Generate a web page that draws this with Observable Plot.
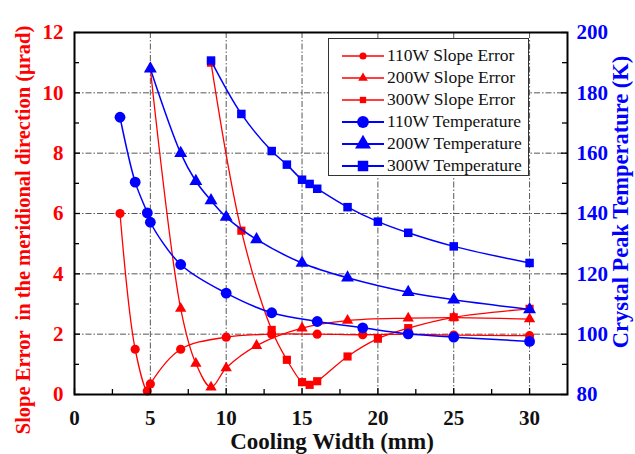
<!DOCTYPE html>
<html><head><meta charset="utf-8">
<script src="https://cdn.jsdelivr.net/npm/d3@7"></script>
<script src="https://cdn.jsdelivr.net/npm/@observablehq/plot@0.6"></script>
<style>
body{margin:0;background:#fff}
#wrap{position:relative;width:635px;height:454px;overflow:hidden}
#legend{position:absolute;left:328px;top:38px;width:201px;height:138px;border:1px solid #333;background:#fff;box-sizing:border-box}
.row{position:absolute;left:0;height:22px;width:200px;font-family:"Liberation Serif",serif;font-size:17.5px;color:#111}
.row svg{position:absolute;left:12px;top:0}
.row span{position:absolute;left:58px;top:0px;white-space:nowrap}
</style>
</head><body><div id="wrap"></div>
<script>
// Cooling width (mm) and values
const x110se = [3, 4, 4.8, 5, 7, 10, 13, 16, 19, 22, 25, 30];
const se110  = [6.0, 1.5, 0.12, 0.35, 1.5, 1.9, 2.0, 2.0, 1.98, 2.0, 1.97, 1.95];
const x200se = [5, 7, 8, 9, 10, 12, 15, 18, 22, 25, 30];
const se200  = [10.8, 2.85, 1.03, 0.24, 0.88, 1.62, 2.2, 2.45, 2.53, 2.55, 2.5];
const x300se = [9, 11, 13, 14, 15, 15.5, 16, 18, 20, 22, 25, 30];
const se300  = [11.0, 5.43, 2.14, 1.15, 0.41, 0.32, 0.44, 1.26, 1.85, 2.2, 2.56, 2.84];
const x110t = [3, 4, 4.8, 5, 7, 10, 13, 16, 19, 22, 25, 30];
const t110  = [171.9, 150.4, 140.2, 137.1, 123.1, 113.6, 107.1, 104.2, 102.1, 100.1, 99.0, 97.6];
const x200t = [5, 7, 8, 9, 10, 12, 15, 18, 22, 25, 30];
const t200  = [188, 160, 150.7, 144.3, 138.8, 131.4, 123.6, 118.7, 113.9, 111.4, 108.2];
const x300t = [9, 11, 13, 14, 15, 15.5, 16, 18, 20, 22, 25, 30];
const t300  = [190.7, 173, 160.7, 156.2, 151.2, 149.8, 148.2, 142.1, 137.3, 133.6, 129.1, 123.6];

const xTicks = [0, 5, 10, 15, 20, 25, 30];
const xMinor = [2.5, 7.5, 12.5, 17.5, 22.5, 27.5];
const yLeftTicks = [0, 2, 4, 6, 8, 10, 12];
const yLeftMinor = [1, 3, 5, 7, 9, 11];
const yRightTicks = [80, 100, 120, 140, 160, 180, 200];
const yRightMinor = [90, 110, 130, 150, 170, 190];
const labels = ["110W Slope Error","200W Slope Error","300W Slope Error","110W Temperature","200W Temperature","300W Temperature"];

const RED = "#ff0000", BLUE = "#0000ff";
const W = 635, H = 454, ML = 74, MR = 68, MT = 32, MB = 60;
const PW = W - ML - MR, PH = H - MT - MB;
const T0 = 80, TK = 10; // right axis: 80..200 K over left 0..12
const toY = t => (t - T0) / TK;

const zip = (xs, ys) => xs.map((x, i) => ({x, v: ys[i]}));
const seSeries = [
  {data: zip(x110se, se110), symbol: "circle", r: 4.6},
  {data: zip(x200se, se200), symbol: "triangle", r: 4.2},
  {data: zip(x300se, se300), symbol: "square", r: 4.6}
];
const tSeries = [
  {data: zip(x110t, t110), symbol: "circle", r: 5.4},
  {data: zip(x200t, t200), symbol: "triangle", r: 4.8},
  {data: zip(x300t, t300), symbol: "square", r: 4.8}
];

const marks = [
  Plot.gridX(xTicks.filter(d => d > 0), {stroke: "#222", strokeOpacity: 0.85, strokeWidth: 0.9, strokeDasharray: "6,2,1.5,2"}),
  Plot.gridY(yLeftTicks.filter(d => d > 0 && d < 12), {stroke: "#222", strokeOpacity: 0.85, strokeWidth: 0.9, strokeDasharray: "6,2,1.5,2"}),
];
for (const s of seSeries) {
  marks.push(Plot.line(s.data, {x: "x", y: "v", stroke: RED, strokeWidth: 1.3, curve: "catmull-rom"}));
}
for (const s of seSeries) {
  marks.push(Plot.dot(s.data, {x: "x", y: "v", fill: RED, stroke: "none", symbol: s.symbol, r: s.r}));
}
for (const s of tSeries) {
  marks.push(Plot.line(s.data, {x: "x", y: d => toY(d.v), stroke: BLUE, strokeWidth: 1.5, curve: "catmull-rom"}));
  marks.push(Plot.dot(s.data, {x: "x", y: d => toY(d.v), fill: BLUE, stroke: "none", symbol: s.symbol, r: s.r}));
}
// inward ticks
marks.push(
  Plot.tickX(xTicks, {x: d => d, insetTop: PH - 6, stroke: "black", strokeWidth: 1.3}),
  Plot.tickX(xMinor, {x: d => d, insetTop: PH - 5, stroke: "black", strokeWidth: 1.3}),
  Plot.tickY(yLeftTicks, {y: d => d, insetRight: PW - 6, stroke: "black", strokeWidth: 1.3}),
  Plot.tickY(yLeftMinor, {y: d => d, insetRight: PW - 5, stroke: "black", strokeWidth: 1.3}),
  Plot.tickY(yRightTicks, {y: toY, insetLeft: PW - 6, stroke: "black", strokeWidth: 1.3}),
  Plot.tickY(yRightMinor, {y: toY, insetLeft: PW - 5, stroke: "black", strokeWidth: 1.3}),
  Plot.frame({stroke: "black", strokeWidth: 2}),
  Plot.axisX(xTicks, {tickSize: 0, tickPadding: 16, fontSize: 21, fontWeight: "bold", fill: "#111", label: null}),
  Plot.axisY(yLeftTicks, {anchor: "left", tickSize: 0, tickPadding: 11, fontSize: 21, fontWeight: "bold", fill: RED, label: null}),
  Plot.axisY(yRightTicks.map(toY), {anchor: "right", tickSize: 0, tickPadding: 9, fontSize: 21, fontWeight: "bold", fill: BLUE, label: null,
    tickFormat: d => String(Math.round(d * TK + T0))})
);

const chart = Plot.plot({
  width: W, height: H,
  marginLeft: ML, marginRight: MR, marginTop: MT, marginBottom: MB,
  x: {domain: [0, 32.5]},
  y: {domain: [0, 12]},
  style: {fontFamily: "'Liberation Serif', 'Times New Roman', serif", background: "white", overflow: "visible"},
  marks
});
document.getElementById("wrap").appendChild(chart);

const svg = d3.select(chart);
const font = "'Liberation Serif', 'Times New Roman', serif";
svg.append("text").text("Cooling Width (mm)")
  .attr("x", 332).attr("y", 449)
  .attr("text-anchor", "middle").attr("font-family", font).attr("font-weight", "bold")
  .attr("font-size", 23).attr("fill", "#111");
svg.append("text").text("Slope Error  in the meridional direction (μrad)")
  .attr("transform", "translate(30,230) rotate(-90)")
  .attr("text-anchor", "middle").attr("font-family", font).attr("font-weight", "bold")
  .attr("font-size", 20.5).attr("fill", RED).style("white-space", "pre");
svg.append("text").text("Crystal Peak Temperature (K)")
  .attr("transform", "translate(628,202) rotate(-90)")
  .attr("text-anchor", "middle").attr("font-family", font).attr("font-weight", "bold")
  .attr("font-size", 22.5).attr("fill", BLUE);

// legend
const legend = document.createElement("div");
legend.id = "legend";
const syms = ["circle", "triangle", "square"];
labels.forEach((lab, i) => {
  const isT = i >= 3;
  const color = isT ? BLUE : RED;
  const sym = syms[i % 3];
  const row = document.createElement("div");
  row.className = "row";
  row.style.top = (6 + i * 22) + "px";
  const s = d3.create("svg").attr("width", 44).attr("height", 22);
  s.append("line").attr("x1", 1).attr("x2", 43).attr("y1", 11).attr("y2", 11)
    .attr("stroke", color).attr("stroke-width", isT ? 2 : 1.4);
  const size = isT ? 110 : 40;
  s.append("path").attr("d", d3.symbol(sym === "circle" ? d3.symbolCircle : sym === "triangle" ? d3.symbolTriangle : d3.symbolSquare, size)())
    .attr("transform", "translate(22,11)").attr("fill", color);
  row.appendChild(s.node());
  const sp = document.createElement("span");
  sp.textContent = lab;
  row.appendChild(sp);
  legend.appendChild(row);
});
document.getElementById("wrap").appendChild(legend);
</script>
</body></html>
